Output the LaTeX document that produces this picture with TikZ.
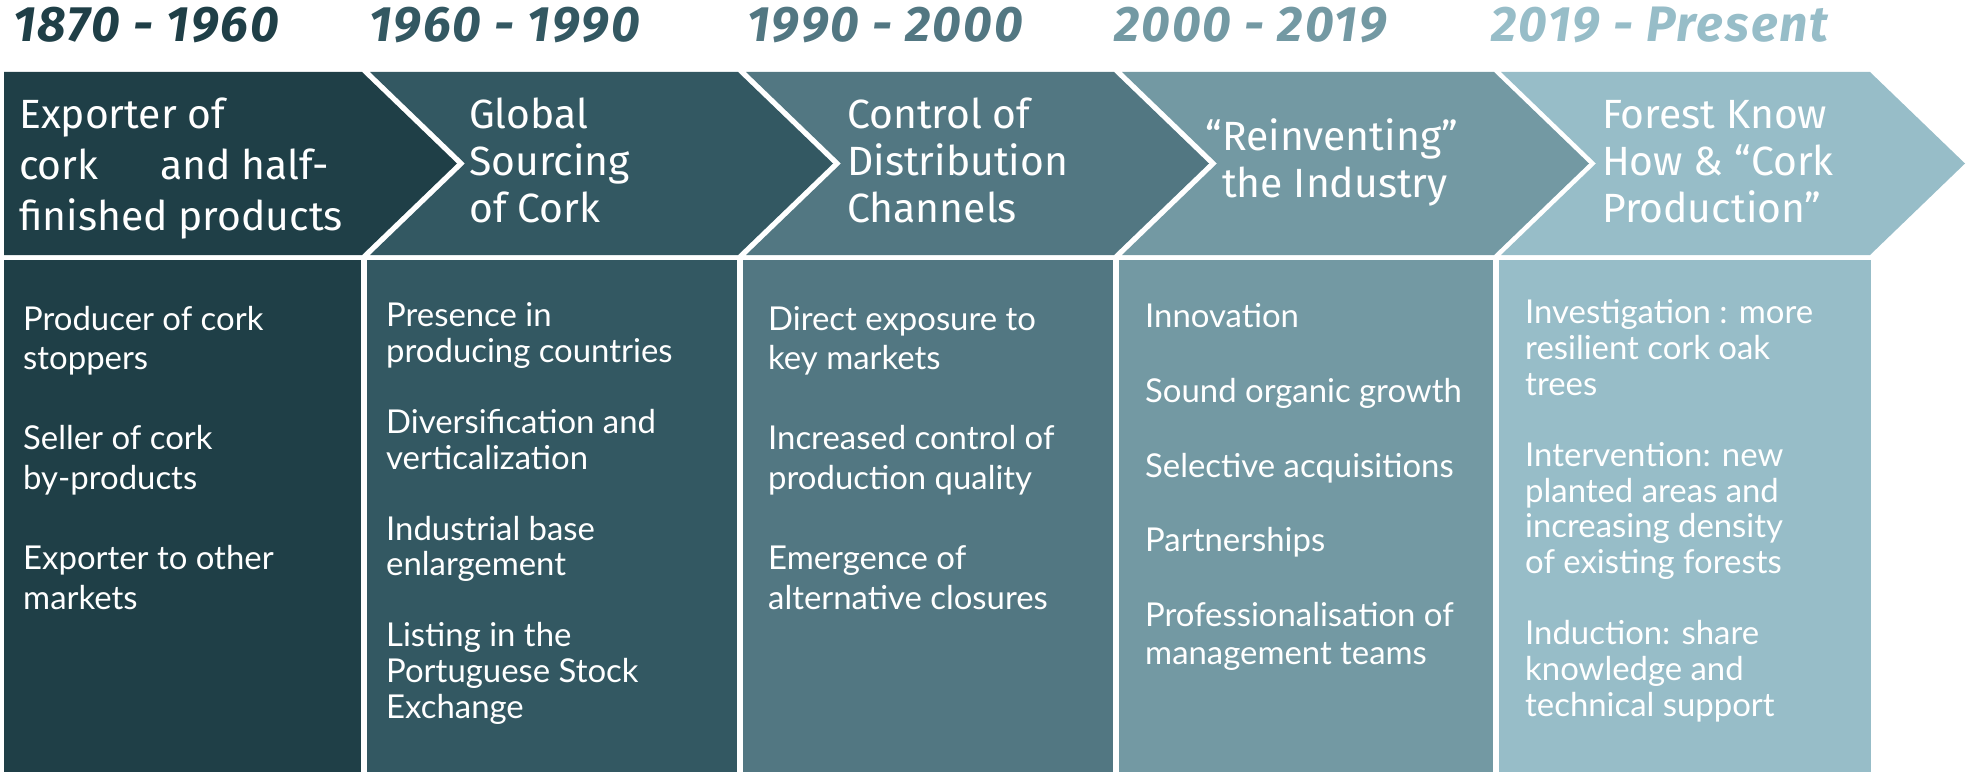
\documentclass[tikz,border=0pt]{standalone}
\usepackage{fontspec}
\setmainfont{Lato}
\newfontfamily\headfont{Fira Sans}
\usepackage{tikz}

\definecolor{eraA}{RGB}{31,63,71}
\definecolor{eraB}{RGB}{51,88,98}
\definecolor{eraC}{RGB}{82,119,130}
\definecolor{eraD}{RGB}{115,153,163}
\definecolor{eraE}{RGB}{151,189,200}

\begin{document}
\begin{tikzpicture}[x=1bp,y=-1bp,
    year/.style={anchor=base west,inner sep=0pt,font=\headfont\fontsize{50}{50}\selectfont\bfseries\itshape\addfontfeature{LetterSpace=4}},
    title/.style={anchor=base west,inner sep=0pt,align=left,text=white,font=\headfont\fontsize{41}{47}\selectfont},
    item/.style={anchor=base west,inner sep=0pt,align=left,text=white,font=\fontsize{33}{#1}\selectfont}]
            \useasboundingbox (0,0) rectangle (1970,772);
            \fill[eraA] (4,72) -- (362,72) -- (457,163.5) -- (362,255) -- (4,255) -- cycle;
            \foreach \l/\r/\c in {370/738/eraB,746/1114/eraC,1122/1494/eraD,1501/1870/eraE}
                \fill[\c] (\l,72) -- (\r,72) -- (\r+95,163.5) -- (\r,255) -- (\l,255) -- (\l+95,163.5) -- cycle;
            \foreach \l/\r/\c in {4/361/eraA,367/737/eraB,743/1113/eraC,1119/1493/eraD,1499/1871/eraE}
                \fill[\c] (\l,260) rectangle (\r,772);
            \node[year,text=eraA] (yA) at (13,42) {1870 - 1960};
            \node[year,text=eraB] (yB) at (369,42) {1960 - 1990};
            \node[year,text=eraC] (yC) at (747,42) {1990 - 2000};
            \node[year,text=eraD] (yD) at (1114,42) {2000 - 2019};
            \node[year,text=eraE] (yE) at (1491,42) {2019 - Present};
            \node[title] (tA) at (19,230) {Exporter of\\[4bp]cork\hspace{62bp}and half-\\[4bp]finished products};
            \node[title] (tB) at (469,222) {Global\\Sourcing\\of Cork};
            \node[title] (tC) at (847,222) {Control of\\Distribution\\Channels};
            \node[title] (tD) at (1222,197) {\llap{“}Reinventing”\\the Industry};
            \node[title] (tE) at (1602,222) {Forest Know\\How \& “Cork\\Production”};
            \node[item=40] (lA) at (23,609) {Producer of cork\\stoppers\\[\baselineskip]
                Seller of cork\\by-products\\[\baselineskip]Exporter to other\\markets};
            \node[item=35.7] (lB) at (386,718) {Presence in\\producing countries\\[\baselineskip]
                Diversification and\\verticalization\\[\baselineskip]Industrial base\\enlargement\\[\baselineskip]
                Listing in the\\Portuguese Stock\\Exchange};
            \node[item=40] (lC) at (768,609) {Direct exposure to\\key markets\\[\baselineskip]
                Increased control of\\production quality\\[\baselineskip]Emergence of\\alternative closures};
            \node[item=37.5] (lD) at (1145,664) {Innovation\\[\baselineskip]Sound organic growth\\[\baselineskip]
                Selective acquisitions\\[\baselineskip]Partnerships\\[\baselineskip]Professionalisation of\\management teams};
            \node[item=35.8] (lE) at (1525,716) {Investigation : more\\resilient cork oak\\trees\\[\baselineskip]
                Intervention: new\\planted areas and\\increasing density\\of existing forests\\[\baselineskip]
                Induction: share\\knowledge and\\technical support};
        \end{tikzpicture}
\end{document}
